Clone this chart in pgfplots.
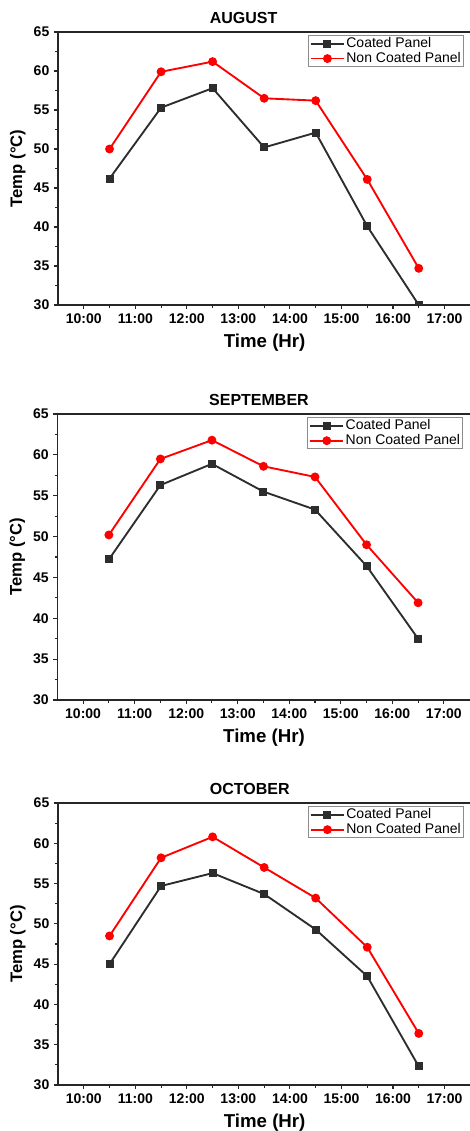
\documentclass[border=0pt]{standalone}
\usepackage{fontspec}
\setmainfont{Liberation Sans}
\usepackage{pgfplots}
\pgfplotsset{compat=1.18}

\definecolor{coat}{RGB}{45,45,45}
\definecolor{noncoat}{RGB}{255,0,0}

\pgfplotsset{
  panel/.style={
    scale only axis,
    width=310pt,
    xmin=9.5, xmax=17.52,
    ymin=30, ymax=65,
    xtick={10,11,12,13,14,15,16,17},
    xticklabels={10:00,11:00,12:00,13:00,14:00,15:00,16:00,17:00},
    ytick={30,35,40,45,50,55,60,65},
    minor x tick num=1,
    minor y tick num=1,
    tick align=outside,
    xtick pos=bottom, ytick pos=left,
    major tick length=3pt,
    minor tick length=2pt,
    axis line style={line width=1.1pt, black!85},
    tick style={line width=0.8pt, black!85},
    /pgf/number format/assume math mode=true,
    ticklabel style={font=\fontsize{10.5}{12}\selectfont\bfseries},
    xlabel={Time (Hr)},
    ylabel={Temp (\textdegree C)},
    every axis x label/.style={at={(axis description cs:0.5,0)}, yshift=-28.5pt, anchor=center,
      font=\fontsize{14}{16}\selectfont\bfseries},
    every axis y label/.style={at={(axis description cs:-0.097,0.5)}, rotate=90, anchor=center,
      font=\fontsize{12.5}{14}\selectfont\bfseries},
    title style={at={(axis description cs:0.356,1)}, anchor=base west, yshift=0.5pt,
      font=\fontsize{12}{14}\selectfont\bfseries},
    legend style={at={(axis description cs:0.605,0.988)}, anchor=north west,
      draw=black!45, line width=0.6pt, fill=white,
      inner xsep=1pt, inner ysep=0.5pt,
      nodes={inner sep=1pt, text depth=0.15em},
      font=\fontsize{10.5}{12}\selectfont},
    legend cell align=left,
    legend image code/.code={\draw[mark repeat=2,mark phase=2] plot coordinates {(0cm,0cm) (0.44cm,0cm) (0.88cm,0cm)};},
  },
  coated/.style={color=coat, line width=1.4pt, mark=square*, mark size=2.3pt, mark options={solid, fill=coat}},
  noncoated/.style={color=noncoat, line width=1.4pt, mark=*, mark size=2.6pt, mark options={solid, fill=noncoat}},
}

\begin{document}
\begin{tikzpicture}
\useasboundingbox (0,0) rectangle (352.5pt,-848.25pt);

% August
\begin{axis}[panel, at={(43.5pt,-24pt)}, anchor=north west, height=204.75pt,
  title={AUGUST}, clip marker paths=true]
\addplot+[coated] coordinates {(10.5,46.2) (11.5,55.3) (12.5,57.8) (13.5,50.2) (14.5,52.1) (15.5,40.1) (16.5,30.0)};
\addplot+[noncoated] coordinates {(10.5,50.0) (11.5,59.9) (12.5,61.2) (13.5,56.5) (14.5,56.2) (15.5,46.1) (16.5,34.7)};
\legend{Coated Panel, Non Coated Panel}
\end{axis}

% September
\begin{axis}[panel, at={(43pt,-310.5pt)}, anchor=north west, height=214.5pt,
  title={SEPTEMBER}]
\addplot+[coated] coordinates {(10.5,47.2) (11.5,56.3) (12.5,58.9) (13.5,55.5) (14.5,53.3) (15.5,46.4) (16.5,37.5)};
\addplot+[noncoated] coordinates {(10.5,50.2) (11.5,59.5) (12.5,61.8) (13.5,58.6) (14.5,57.3) (15.5,49.0) (16.5,41.9)};
\legend{Coated Panel, Non Coated Panel}
\end{axis}

% October
\begin{axis}[panel, at={(43.5pt,-602.25pt)}, anchor=north west, height=211.5pt,
  title={OCTOBER}]
\addplot+[coated] coordinates {(10.5,45.0) (11.5,54.7) (12.5,56.3) (13.5,53.7) (14.5,49.3) (15.5,43.5) (16.5,32.3)};
\addplot+[noncoated] coordinates {(10.5,48.5) (11.5,58.2) (12.5,60.8) (13.5,57.0) (14.5,53.2) (15.5,47.1) (16.5,36.4)};
\legend{Coated Panel, Non Coated Panel}
\end{axis}
\end{tikzpicture}
\end{document}
